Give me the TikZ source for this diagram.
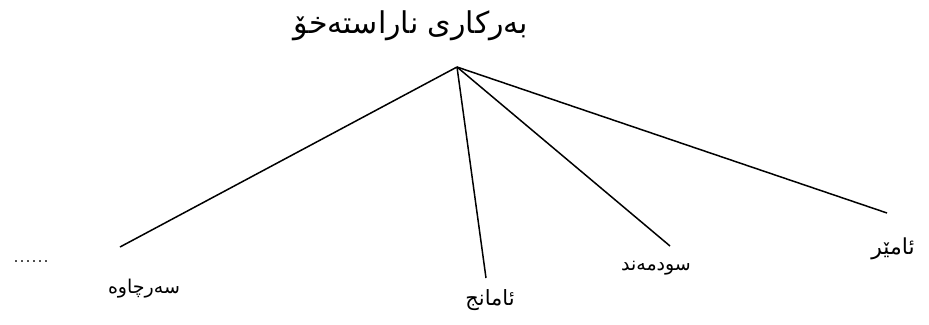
\documentclass[tikz,border=0pt]{standalone}
\usepackage{fontspec}
\TeXXeTstate=1
\newfontfamily\arabicfont[Script=Arabic]{DejaVu Sans}
\begin{document}
\begin{tikzpicture}[x=1pt,y=-1pt,
  branch/.style={line width=1.5pt,black},
  lbl/.style={inner sep=0pt,font=\arabicfont\fontsize{19}{22}\selectfont}]
\useasboundingbox (0,0) rectangle (929,324);
\node[inner sep=0pt,font=\arabicfont\fontsize{30}{34}\selectfont] (title) at (411,26) {\beginR بەرکاری ناراستەخۆ\endR};
\coordinate (apex) at (457,67);
\coordinate (e1) at (120,247);
\coordinate (e2) at (486,278);
\coordinate (e3) at (670,246);
\coordinate (e4) at (887,213);
\draw[branch] (apex) -- (e1);
\draw[branch] (apex) -- (e2);
\draw[branch] (apex) -- (e3);
\draw[branch] (apex) -- (e4);
\node[lbl] (l1) at (144,289) {\beginR سەرچاوە\endR};
\node[lbl,font=\arabicfont\fontsize{21}{24}\selectfont] (l2) at (490,300) {\beginR ئامانج\endR};
\node[lbl] (l3) at (656,268) {\beginR سودمەند\endR};
\node[lbl,font=\arabicfont\fontsize{22}{26}\selectfont] (l4) at (893,249) {\beginR ئامێر\endR};
\node[inner sep=0pt,font=\fontsize{24}{26}\selectfont] (dots) at (31,262) {......};
\end{tikzpicture}
\end{document}
